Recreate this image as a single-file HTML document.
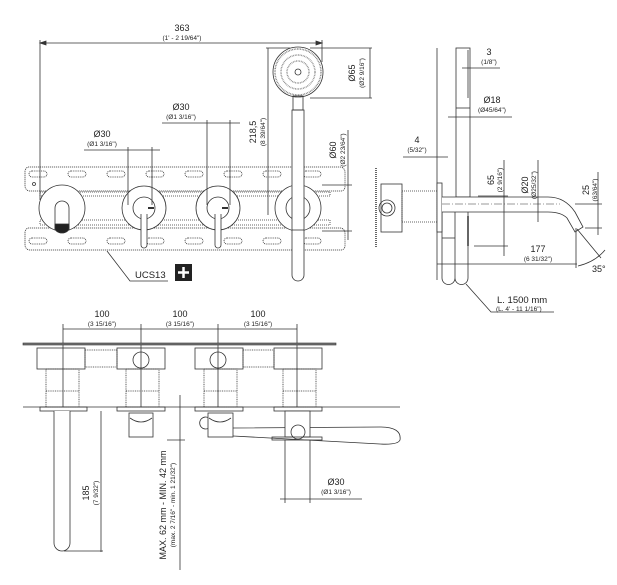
<!DOCTYPE html>
<html><head><meta charset="utf-8"><style>
html,body{margin:0;padding:0;background:#fff}
svg{display:block}
text{font-family:"Liberation Sans",sans-serif;fill:#222}
.m{font-size:9px}.s{font-size:6.5px}
</style></head><body>
<svg width="617" height="585" viewBox="0 0 617 585" xmlns="http://www.w3.org/2000/svg" fill="none" stroke="#333" stroke-width="0.8">
<!-- ===== TOP FRONT VIEW ===== -->
<line x1="40" y1="43" x2="322" y2="43"/>
<path d="M40 43l6-2v4zM322 43l-6-2v4z" fill="#333"/>
<line x1="40" y1="40" x2="40" y2="200"/>
<line x1="322" y1="40" x2="322" y2="62"/>
<text class="m" x="182" y="31" text-anchor="middle" stroke="none">363</text>
<text class="s" x="182" y="40" text-anchor="middle" stroke="none">(1' - 2 19/64")</text>
<!-- plate -->
<path d="M28 167H340a5 5 0 0 1 5 5V187a4 4 0 0 1-4 4H30a5 5 0 0 1-5-5V172a5 5 0 0 1 3-5z" stroke-dasharray="1.2 0.8"/>
<path d="M28 228H340a5 5 0 0 1 5 5V246a4 4 0 0 1-4 4H30a5 5 0 0 1-5-5V232a5 5 0 0 1 3-4z" stroke-dasharray="1.2 0.8"/>
<rect x="40" y="192" width="290" height="4" stroke-dasharray="1 1"/>
<rect x="40" y="220" width="290" height="5" stroke-dasharray="1 1"/>
<g stroke-dasharray="1 0.8">
<rect x="29" y="171" width="18" height="6" rx="3"/><rect x="68" y="171" width="18" height="6" rx="3"/><rect x="107" y="171" width="18" height="6" rx="3"/><rect x="146" y="171" width="18" height="6" rx="3"/><rect x="185" y="171" width="18" height="6" rx="3"/><rect x="224" y="171" width="18" height="6" rx="3"/><rect x="263" y="171" width="18" height="6" rx="3"/><rect x="303" y="171" width="18" height="6" rx="3"/>
<rect x="29" y="238" width="18" height="6" rx="3"/><rect x="68" y="238" width="18" height="6" rx="3"/><rect x="107" y="238" width="18" height="6" rx="3"/><rect x="146" y="238" width="18" height="6" rx="3"/><rect x="185" y="238" width="18" height="6" rx="3"/><rect x="224" y="238" width="18" height="6" rx="3"/><rect x="263" y="238" width="18" height="6" rx="3"/><rect x="303" y="238" width="18" height="6" rx="3"/>
</g>
<circle cx="34" cy="184" r="1.5"/>
<!-- knobs -->
<circle cx="62" cy="208" r="23" fill="#fff"/>
<path d="M55 230V208a7 7 0 0 1 14 0V230z" fill="#fff"/>
<path d="M55 224h14v4a7 5 0 0 1-14 0z" fill="#222"/>
<circle cx="144" cy="208" r="22" fill="#fff"/>
<circle cx="144" cy="208" r="11"/>
<path d="M141 214v31a3 3 0 0 0 6 0v-31" fill="#fff"/>
<line x1="148" y1="208" x2="154" y2="208" stroke-width="2"/>
<circle cx="218" cy="208" r="22" fill="#fff"/>
<circle cx="218" cy="208" r="11"/>
<path d="M215 214v31a3 3 0 0 0 6 0v-31" fill="#fff"/>
<line x1="222" y1="208" x2="228" y2="208" stroke-width="2"/>
<circle cx="298" cy="208" r="23" fill="#fff"/>
<circle cx="298" cy="208" r="12"/>
<!-- hand shower -->
<path d="M292 110H304V275a6 6 0 0 1-12 0z" fill="#fff"/>
<line x1="292" y1="230" x2="304" y2="230"/>
<circle cx="298" cy="72" r="25" fill="#fff"/>
<circle cx="298" cy="72" r="23" stroke="#777" stroke-dasharray="0.8 0.8" stroke-width="1.5"/>
<circle cx="298" cy="72" r="17" stroke="#888" stroke-dasharray="0.8 0.8" stroke-width="1.5"/>
<circle cx="298" cy="72" r="11" stroke="#888" stroke-dasharray="0.8 0.8" stroke-width="1.5"/>
<circle cx="298" cy="72" r="3"/>
<rect x="293" y="96" width="10" height="14"/>
<!-- Ø30 left -->
<text class="m" x="102" y="137" text-anchor="middle" stroke="none">Ø30</text>
<text class="s" x="102" y="146" text-anchor="middle" stroke="none">(Ø1 3/16")</text>
<line x1="84" y1="150" x2="160" y2="150"/>
<line x1="128" y1="147" x2="128" y2="205"/><line x1="152" y1="147" x2="152" y2="205"/>
<!-- Ø30 mid -->
<text class="m" x="181" y="110" text-anchor="middle" stroke="none">Ø30</text>
<text class="s" x="181" y="119" text-anchor="middle" stroke="none">(Ø1 3/16")</text>
<line x1="162" y1="123" x2="240" y2="123"/>
<line x1="207" y1="120" x2="207" y2="205"/><line x1="230" y1="120" x2="230" y2="205"/>
<!-- 218,5 -->
<line x1="268" y1="48" x2="268" y2="215"/>
<line x1="266" y1="48" x2="290" y2="48"/>
<text class="m" transform="translate(256 132) rotate(-90)" text-anchor="middle" stroke="none">218,5</text>
<text class="s" transform="translate(265 132) rotate(-90)" text-anchor="middle" stroke="none">(8 39/64")</text>
<!-- Ø65 -->
<line x1="310" y1="48" x2="372" y2="48"/><line x1="310" y1="98" x2="372" y2="98"/>
<line x1="370" y1="48" x2="370" y2="98"/>
<text class="m" transform="translate(355 73) rotate(-90)" text-anchor="middle" stroke="none">Ø65</text>
<text class="s" transform="translate(364 73) rotate(-90)" text-anchor="middle" stroke="none">(Ø2 9/16")</text>
<!-- Ø60 -->
<line x1="322" y1="185" x2="352" y2="185"/><line x1="322" y1="231" x2="352" y2="231"/>
<line x1="348" y1="130" x2="348" y2="240"/>
<text class="m" transform="translate(336 150) rotate(-90)" text-anchor="middle" stroke="none">Ø60</text>
<text class="s" transform="translate(345 150) rotate(-90)" text-anchor="middle" stroke="none">(Ø2 23/64")</text>
<!-- UCS13 -->
<polyline points="107,251 130,281 168,281"/>
<text x="135" y="278" stroke="none" style="font-size:9.5px">UCS13</text>
<rect x="175" y="264" width="17" height="17" fill="#222" stroke="none"/>
<path d="M183.5 267v11M178 272.5h11" stroke="#fff" stroke-width="2.5"/>

<!-- ===== SIDE VIEW ===== -->
<line x1="437" y1="48" x2="437" y2="280"/>
<rect x="456" y="48" width="14" height="149" fill="#fff"/>
<line x1="456" y1="108" x2="470" y2="108"/>
<line x1="468" y1="50" x2="468" y2="98"/>
<path d="M442 212V278a3 3 0 0 0 13 0V212M455 212V278a3 3 0 0 0 13 0V212"/>
<line x1="442" y1="238" x2="455" y2="238"/>
<line x1="468" y1="216" x2="468" y2="246" stroke-width="1.5"/>
<text class="m" x="489" y="55" text-anchor="middle" stroke="none">3</text>
<text class="s" x="489" y="64" text-anchor="middle" stroke="none">(1/8")</text>
<line x1="462" y1="68" x2="500" y2="68"/>
<text class="m" x="492" y="103" text-anchor="middle" stroke="none">Ø18</text>
<text class="s" x="492" y="112" text-anchor="middle" stroke="none">(Ø45/64")</text>
<line x1="448" y1="117" x2="512" y2="117"/>
<text class="m" x="417" y="143" text-anchor="middle" stroke="none">4</text>
<text class="s" x="417" y="152" text-anchor="middle" stroke="none">(5/32")</text>
<line x1="403" y1="157" x2="448" y2="157"/>
<!-- valve -->
<line x1="376" y1="168" x2="376" y2="248" stroke-dasharray="1 1" stroke-width="1.5"/>
<rect x="381" y="184" width="21" height="48"/>
<circle cx="387" cy="208" r="8"/><circle cx="387" cy="208" r="5"/>
<rect x="402" y="191" width="35" height="31" stroke-dasharray="1 1"/>
<rect x="437" y="183" width="5" height="49" fill="#fff"/>
<!-- spout -->
<path d="M442 197H548Q565 197 575 212L583 227L575 232L567 218Q561 212 548 212H442" fill="#fff"/>
<line x1="442" y1="204" x2="560" y2="204" stroke-dasharray="8 2 1 2" stroke-width="0.6"/>
<!-- dims -->
<line x1="478" y1="196" x2="508" y2="196"/><line x1="474" y1="246" x2="508" y2="246"/>
<line x1="504" y1="160" x2="504" y2="256"/>
<text class="m" transform="translate(494 180) rotate(-90)" text-anchor="middle" stroke="none">65</text>
<text class="s" transform="translate(502 180) rotate(-90)" text-anchor="middle" stroke="none">(2 9/16")</text>
<line x1="538" y1="160" x2="538" y2="222"/>
<text class="m" transform="translate(528 185) rotate(-90)" text-anchor="middle" stroke="none">Ø20</text>
<text class="s" transform="translate(536 185) rotate(-90)" text-anchor="middle" stroke="none">(Ø25/32")</text>
<line x1="575" y1="204" x2="602" y2="204"/><line x1="585" y1="228" x2="602" y2="228"/>
<line x1="598" y1="172" x2="598" y2="235"/>
<text class="m" transform="translate(589 190) rotate(-90)" text-anchor="middle" stroke="none">25</text>
<text class="s" transform="translate(597 190) rotate(-90)" text-anchor="middle" stroke="none">(63/64")</text>
<line x1="437" y1="264" x2="577" y2="264"/>
<line x1="576" y1="228" x2="576" y2="268"/>
<text class="m" x="538" y="252" text-anchor="middle" stroke="none">177</text>
<text class="s" x="538" y="261" text-anchor="middle" stroke="none">(6 31/32")</text>
<path d="M577 229L601 258M578 266Q595 262 605 250"/>
<text class="m" x="592" y="272" stroke="none">35°</text>
<polyline points="466,284 491,312 554,312"/>
<text x="497" y="303" stroke="none" style="font-size:9.5px">L. 1500 mm</text>
<text class="s" x="496" y="311" stroke="none">(L. 4' - 11 1/16")</text>

<!-- ===== BOTTOM TOP VIEW ===== -->
<line x1="63" y1="329" x2="297" y2="329"/>
<line x1="63" y1="324" x2="63" y2="407"/><line x1="141" y1="324" x2="141" y2="407"/><line x1="218" y1="324" x2="218" y2="407"/><line x1="297" y1="324" x2="297" y2="407"/>
<text class="m" x="102" y="317" text-anchor="middle" stroke="none">100</text>
<text class="s" x="102" y="326" text-anchor="middle" stroke="none">(3 15/16")</text>
<text class="m" x="180" y="317" text-anchor="middle" stroke="none">100</text>
<text class="s" x="180" y="326" text-anchor="middle" stroke="none">(3 15/16")</text>
<text class="m" x="258" y="317" text-anchor="middle" stroke="none">100</text>
<text class="s" x="258" y="326" text-anchor="middle" stroke="none">(3 15/16")</text>
<rect x="23" y="343" width="313" height="2" fill="#777" stroke-width="0.6"/>
<g>
<rect x="37" y="348" width="48" height="21"/><rect x="46" y="369" width="33" height="38" stroke-dasharray="1 0.8"/><line x1="46" y1="391" x2="79" y2="391" stroke-dasharray="1 0.8"/>
<rect x="117" y="348" width="48" height="21"/><rect x="126" y="369" width="33" height="38" stroke-dasharray="1 0.8"/><line x1="126" y1="391" x2="159" y2="391" stroke-dasharray="1 0.8"/>
<rect x="195" y="348" width="48" height="21"/><rect x="204" y="369" width="33" height="38" stroke-dasharray="1 0.8"/><line x1="204" y1="391" x2="237" y2="391" stroke-dasharray="1 0.8"/>
<rect x="274" y="348" width="48" height="21"/><rect x="283" y="369" width="33" height="38" stroke-dasharray="1 0.8"/><line x1="283" y1="391" x2="316" y2="391" stroke-dasharray="1 0.8"/>
<rect x="85" y="350" width="32" height="17" stroke-dasharray="1 0.8"/>
<rect x="243" y="350" width="31" height="17" stroke-dasharray="1 0.8"/>
<circle cx="141" cy="360" r="8"/><circle cx="218" cy="360" r="8"/>
</g>
<line x1="23" y1="407" x2="400" y2="407"/>
<rect x="40" y="407" width="47" height="4"/><rect x="117" y="407" width="48" height="4"/><rect x="195" y="407" width="48" height="4"/><rect x="274" y="407" width="48" height="4"/>
<path d="M54 411V543a8 8 0 0 0 16 0V411" fill="#fff"/>
<rect x="129" y="413" width="24" height="24"/><path d="M130 418q11 8 22 0"/>
<path d="M233 428L380 427Q402 427 400 440Q398 445 380 444L233 436" fill="#fff"/>
<path d="M209 418a6 6 0 1 0 0 10"/>
<rect x="208" y="413" width="25" height="24" fill="#fff"/><path d="M209 418q11 8 22 0"/>
<rect x="285" y="411" width="25" height="26" fill="#fff"/>
<circle cx="298" cy="432" r="7" fill="#fff"/>
<rect x="272" y="437" width="50" height="3"/>
<line x1="285" y1="440" x2="285" y2="503"/><line x1="310" y1="440" x2="310" y2="503"/>
<line x1="280" y1="499" x2="362" y2="499"/>
<text class="m" x="336" y="485" text-anchor="middle" stroke="none">Ø30</text>
<text class="s" x="336" y="494" text-anchor="middle" stroke="none">(Ø1 3/16")</text>
<line x1="101" y1="411" x2="101" y2="552"/><line x1="64" y1="551" x2="103" y2="551"/>
<text class="m" transform="translate(89 493) rotate(-90)" text-anchor="middle" stroke="none">185</text>
<text class="s" transform="translate(98 493) rotate(-90)" text-anchor="middle" stroke="none">(7 9/32")</text>
<line x1="180" y1="395" x2="180" y2="570"/>
<line x1="167" y1="440" x2="185" y2="440"/>
<text class="m" transform="translate(166 505) rotate(-90)" text-anchor="middle" stroke="none">MAX. 62 mm - MIN. 42 mm</text>
<text class="s" transform="translate(175 505) rotate(-90)" text-anchor="middle" stroke="none">(max. 2 7/16" - min. 1 21/32")</text>
</svg>
</body></html>
